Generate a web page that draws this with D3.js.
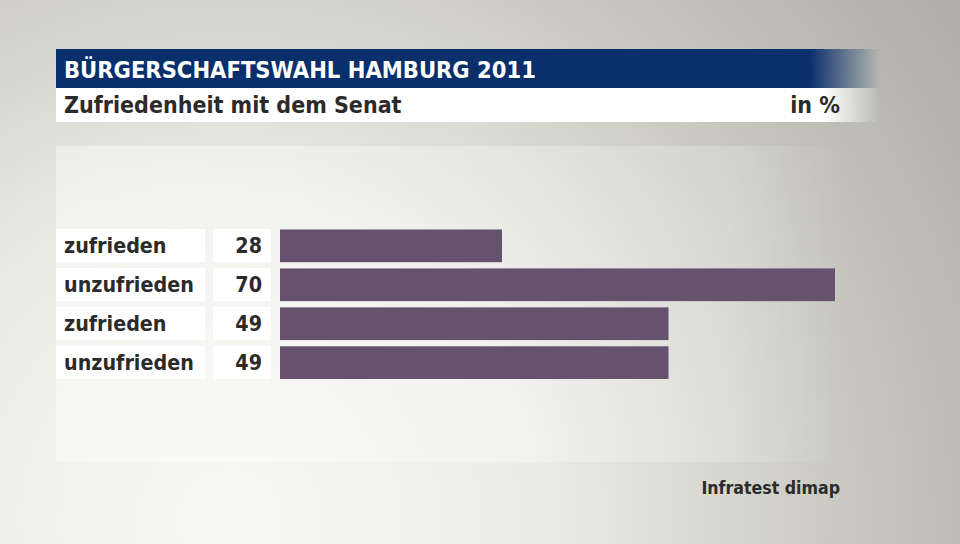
<!DOCTYPE html>
<html><head><meta charset="utf-8">
<script src="https://cdn.jsdelivr.net/npm/d3@7"></script>
<style>html,body{margin:0;padding:0;background:#fff;}svg{display:block;}</style>
</head><body>
<script>
const title = "BÜRGERSCHAFTSWAHL HAMBURG 2011";
const subtitle = "Zufriedenheit mit dem Senat";
const unit = "in %";
const source = "Infratest dimap";
const categories = ["zufrieden", "unzufrieden", "zufrieden", "unzufrieden"];
const values = [28, 70, 49, 49];

const W = 960, H = 544;
const svg = d3.select("body").append("svg").attr("width", W).attr("height", H);
const defs = svg.append("defs");

const bg = defs.append("radialGradient").attr("id","bg").attr("gradientUnits","userSpaceOnUse")
  .attr("cx",230).attr("cy",520).attr("r",900);
bg.append("stop").attr("offset","0").attr("stop-color","#f8f8f4");
bg.append("stop").attr("offset","0.35").attr("stop-color","#ecece7");
bg.append("stop").attr("offset","0.75").attr("stop-color","#c2c2ba");
bg.append("stop").attr("offset","1").attr("stop-color","#aeaea6");
svg.append("rect").attr("width",W).attr("height",H).attr("fill","url(#bg)");

const panel = defs.append("linearGradient").attr("id","panel").attr("x1","0").attr("x2","1").attr("y1","0").attr("y2","0");
panel.append("stop").attr("offset","0").attr("stop-color","#ffffff").attr("stop-opacity",0.4);
panel.append("stop").attr("offset","0.85").attr("stop-color","#ffffff").attr("stop-opacity",0.2);
panel.append("stop").attr("offset","1").attr("stop-color","#ffffff").attr("stop-opacity",0);
svg.append("rect").attr("x",56).attr("y",146).attr("width",790).attr("height",316).attr("fill","url(#panel)");

const blue = defs.append("linearGradient").attr("id","blue").attr("x1","0").attr("x2","1");
blue.append("stop").attr("offset","0").attr("stop-color","#0a306c");
blue.append("stop").attr("offset","0.915").attr("stop-color","#0a306c");
blue.append("stop").attr("offset","1").attr("stop-color","#0a306c").attr("stop-opacity",0);
svg.append("rect").attr("x",56).attr("y",49).attr("width",824).attr("height",39).attr("fill","url(#blue)");

const white = defs.append("linearGradient").attr("id","white").attr("x1","0").attr("x2","1");
white.append("stop").attr("offset","0").attr("stop-color","#ffffff");
white.append("stop").attr("offset","0.93").attr("stop-color","#ffffff");
white.append("stop").attr("offset","1").attr("stop-color","#ffffff").attr("stop-opacity",0);
svg.append("rect").attr("x",56).attr("y",88).attr("width",824).attr("height",34).attr("fill","url(#white)");

const font = "'DejaVu Sans Condensed', 'DejaVu Sans', sans-serif";
svg.append("text").attr("x",64).attr("y",78).text(title)
  .attr("font-family",font).attr("font-weight","bold").attr("font-size",23.5).attr("fill","#fff");
svg.append("text").attr("x",64).attr("y",113).text(subtitle)
  .attr("font-family",font).attr("font-weight","bold").attr("font-size",23).attr("fill","#2b2b2b");
svg.append("text").attr("x",840).attr("y",113).attr("text-anchor","end").text(unit)
  .attr("font-family",font).attr("font-weight","bold").attr("font-size",23).attr("fill","#2b2b2b");

const y = d3.scaleBand().domain(d3.range(categories.length)).range([229, 379]).paddingInner(0.147).paddingOuter(0);
const x = d3.scaleLinear().domain([0, 70]).range([280, 835]);

const rows = svg.append("g").selectAll("g").data(values).join("g")
  .attr("transform",(d,i)=>`translate(0,${y(i)})`);
const bh = y.bandwidth();
rows.append("rect").attr("x",56).attr("width",149).attr("height",bh).attr("fill","#fff");
rows.append("rect").attr("x",213).attr("width",58).attr("height",bh).attr("fill","#fff");
rows.append("rect").attr("x",x(0)).attr("y",0.5).attr("width",d=>x(d)-x(0)).attr("height",bh-0.5).attr("fill","#66526f");
rows.append("text").attr("x",64).attr("y",bh/2+7.5).text((d,i)=>categories[i])
  .attr("font-family",font).attr("font-weight","bold").attr("font-size",21.3).attr("fill","#2b2b2b");
rows.append("text").attr("x",262).attr("y",bh/2+7.5).attr("text-anchor","end").text(d=>d)
  .attr("font-family",font).attr("font-weight","bold").attr("font-size",21.3).attr("fill","#2b2b2b");

svg.append("text").attr("x",840).attr("y",494).attr("text-anchor","end").text(source)
  .attr("font-family",font).attr("font-weight","bold").attr("font-size",17.6).attr("fill","#2b2b2b");
</script>
</body></html>
